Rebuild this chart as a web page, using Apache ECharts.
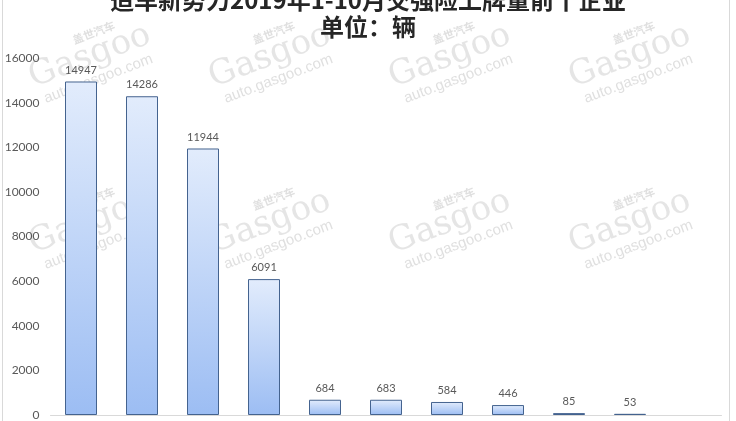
<!DOCTYPE html>
<html>
<head>
<meta charset="utf-8">
<script src="https://cdn.jsdelivr.net/npm/echarts@6/dist/echarts.min.js"></script>
<style>
html,body{margin:0;padding:0;background:#fff;}
#main{width:736px;height:421px;}
</style>
</head>
<body>
<div id="main"></div>
<script>
var titleLine1 = '造车新势力2019年1-10月交强险上牌量前十企业';
var titleLine2 = '单位：辆';
var categories = ['企业1','企业2','企业3','企业4','企业5','企业6','企业7','企业8','企业9','企业10',''];
var values = [14947, 14286, 11944, 6091, 684, 683, 584, 446, 85, 53, '-'];
var yTicks = [0, 2000, 4000, 6000, 8000, 10000, 12000, 14000, 16000];

var chart = echarts.init(document.getElementById('main'));

var wmCols = [92, 272, 452, 632];
var wmRows = [62, 228];
var graphics = [{
  type: 'rect', shape: {x: 2.5, y: -5, width: 727, height: 430},
  style: {fill: 'none', stroke: '#d9d9d9', lineWidth: 1}, z: -1
}];
wmRows.forEach(function (cy) {
  wmCols.forEach(function (cx) {
    graphics.push({
      type: 'group', x: cx, y: cy, rotation: 0.36, z: 100, silent: true,
      children: [
        {type: 'text', x: 12, y: -27, style: {text: '盖世汽车', font: 'bold 11px "Noto Sans CJK SC"', fill: 'rgba(150,150,150,0.3)', textAlign: 'center', textVerticalAlign: 'middle'}},
        {type: 'text', x: 0, y: -6, style: {text: 'Gasgoo', font: '34px "DejaVu Serif"', fill: 'rgba(150,150,150,0.25)', textAlign: 'center', textVerticalAlign: 'middle'}},
        {type: 'text', x: 0, y: 18, style: {text: 'auto.gasgoo.com', font: '15px "Liberation Sans"', fill: 'rgba(150,150,150,0.3)', textAlign: 'center', textVerticalAlign: 'middle'}}
      ]
    });
  });
});

chart.setOption({
  animation: false,
  backgroundColor: '#ffffff',
  title: [{
    text: titleLine1, left: 'center', top: -17,
    textStyle: {fontFamily: 'Noto Sans CJK SC', fontSize: 24, fontWeight: 'bold', color: '#262626'}
  }, {
    text: titleLine2, left: 'center', top: 10,
    textStyle: {fontFamily: 'Noto Sans CJK SC', fontSize: 24, fontWeight: 'bold', color: '#262626'}
  }],
  grid: {left: 50.5, right: 14.5, top: 58, bottom: 4, containLabel: false},
  xAxis: {
    type: 'category', data: categories,
    axisLine: {show: true, lineStyle: {color: '#d9d9d9', width: 1}},
    axisTick: {show: false},
    axisLabel: {show: false}
  },
  yAxis: {
    type: 'value', min: 0, max: 16000, interval: 2000,
    axisLine: {show: false}, axisTick: {show: false},
    splitLine: {show: false},
    axisLabel: {
      margin: 11, color: '#595959', fontFamily: 'Lato', fontSize: 12,
      formatter: function (v) { return yTicks.indexOf(v) >= 0 ? String(v) : ''; }
    }
  },
  series: [{
    type: 'bar', data: values, barWidth: 32,
    itemStyle: {
      color: new echarts.graphic.LinearGradient(0, 0, 0, 1, [
        {offset: 0, color: '#e2ecfc'},
        {offset: 1, color: '#9cbdf3'}
      ]),
      borderColor: '#44638f', borderWidth: 1
    },
    label: {
      show: true, position: 'top', distance: 6,
      color: '#595959', fontFamily: 'Lato', fontSize: 11
    }
  }],
  graphic: graphics
});
</script>
</body>
</html>
